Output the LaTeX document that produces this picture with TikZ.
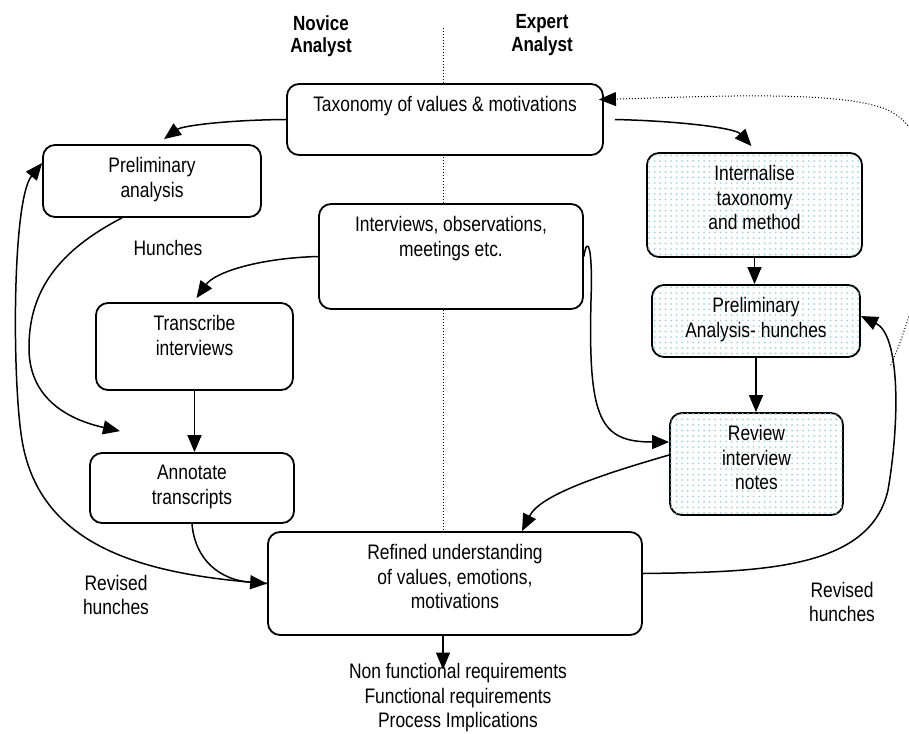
\documentclass[tikz,border=0pt]{standalone}
\usepackage{fontspec}
\setmainfont[FakeStretch=0.83]{Liberation Sans}
\usetikzlibrary{arrows.meta,patterns.meta}
\definecolor{dotblue}{RGB}{160,212,222}

\begin{document}
\begin{tikzpicture}[x=1pt,y=-1pt,
        font=\fontsize{21}{24.5}\selectfont,
        box/.style={draw,line width=1.8pt,rounded corners=12pt,fill=white},
        shaded/.style={box,postaction={pattern={Dots[distance=5.5pt,radius=1pt]},pattern color=dotblue}},
        tag/.style={anchor=north,inner sep=0pt,yshift=-13pt,align=center},
        arr/.style={line width=1.5pt,-{Triangle[length=17pt,width=14pt]}},
        note/.style={align=center,inner sep=1pt},
        head/.style={align=center,font=\bfseries\fontsize{20.5}{22.5}\selectfont}]
        \useasboundingbox (0,0) rectangle (909,733);

        \node[head] (novice) at (321,36) {Novice\\Analyst};
        \node[head] (expert) at (542,35) {Expert\\Analyst};
        \draw[dotted,line width=1pt] (443,28) -- (443,530);

        \node[box,minimum width=316pt,minimum height=71pt,
          label={[tag]north:Taxonomy of values \& motivations}] (tax) at (445,119.5) {};
        \node[box,minimum width=218pt,minimum height=72pt,
          label={[tag]north:Preliminary\\analysis}] (prel) at (152,181) {};
        \node[shaded,minimum width=215pt,minimum height=104pt,
          label={[tag]north:Internalise\\taxonomy\\and method}] (intern) at (754.5,205) {};
        \node[box,minimum width=264pt,minimum height=105pt,
          label={[tag]north:{Interviews, observations,\\meetings etc.}}] (interv) at (451,256.5) {};
        \node[shaded,minimum width=208pt,minimum height=72pt,
          label={[tag]north:Preliminary\\Analysis- hunches}] (prelh) at (756,321) {};
        \node[box,minimum width=197pt,minimum height=87pt,
          label={[tag]north:Transcribe\\interviews}] (trans) at (194.5,346.5) {};
        \node[shaded,minimum width=173pt,minimum height=102pt,
          label={[tag]north:Review\\interview\\notes}] (review) at (756.5,464) {};
        \node[box,minimum width=204pt,minimum height=70pt,
          label={[tag]north:Annotate\\transcripts}] (annot) at (192,488) {};
        \node[box,minimum width=374pt,minimum height=103pt,
          label={[tag]north:{Refined understanding\\of values, emotions,\\motivations}}] (refined) at (455,583.5) {};

        \node[note] (hunch) at (168,248) {Hunches};
        \node[note] (revleft) at (116,595) {Revised\\hunches};
        \node[note] (revright) at (842,602) {Revised\\hunches};
        \node[note] (outputs) at (458,698) {Non functional requirements\\Functional requirements\\Process Implications};

        % novice side
        \draw[arr] (tax.west) .. controls (225,120) and (182,126) .. ([shift={(12,-5)}]prel.north);
        \draw[arr] (interv.west) .. controls (260,258) and (215,272) .. ([shift={(2,-4)}]trans.north);
        \draw[arr] ([xshift=-30pt]prel.south) .. controls (60,250) and (28,290) .. (29,350)
          .. controls (30,400) and (70,420) .. ([shift={(-72,-21)}]annot.north);
        \draw[arr] (trans.south) -- (trans.south |- annot.north);
        \draw[arr] (annot.south) .. controls (195,560) and (220,580) .. (refined.west);
        \draw[arr] (refined.west) .. controls (150,575) and (40,550) .. (22,440)
          .. controls (12,380) and (12,200) .. ([yshift=18pt]prel.west);

        % expert side
        \draw[arr] ([xshift=11pt]tax.east) .. controls (680,121) and (735,128) .. ([shift={(-3,-6)}]intern.north);
        \draw[arr] (intern.south) -- (intern.south |- prelh.north);
        \draw[arr] (prelh.south) -- (prelh.south |- review.north);
        \draw[arr] (interv.east) .. controls (587,235) and (593,245) .. (591,300)
          .. controls (588,420) and (600,442) .. ([yshift=22pt]review.west);
        \draw[arr] ([yshift=9pt]review.west) .. controls (600,475) and (540,495) .. ([xshift=67pt]refined.north);
        \draw[arr] ([yshift=10pt]refined.east) .. controls (760,572) and (870,570) .. (888,490)
          .. controls (900,420) and (900,335) .. ([yshift=5pt]prelh.east) coordinate[pos=0.6] (dstart);
        \draw[dotted,line width=1pt,-{Triangle[length=17pt,width=14pt]}] (dstart)
          .. controls (928,280) and (950,150) .. (895,114)
          .. controls (858,88) and (700,97) .. ([shift={(-5,-20)}]tax.east);

        \draw[arr,shorten >=-7pt] ([xshift=-12pt]refined.south) -- ([xshift=-12pt]refined.south |- outputs.north);
\end{tikzpicture}
\end{document}
